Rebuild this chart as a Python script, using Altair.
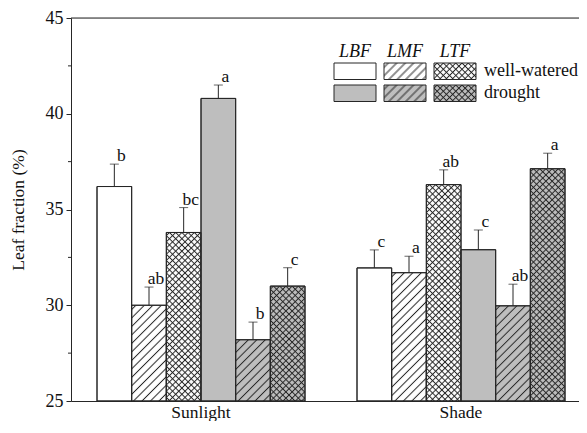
import altair as alt
import pandas as pd
from urllib.parse import quote

# ---------------- data ----------------
sites = ["Sunlight", "Shade"]
types = ["LBF", "LMF", "LTF"]
conds = ["well-watered", "drought"]

# order within a site: LBF, LMF, LTF (well-watered) then LBF, LMF, LTF (drought)
values_sunlight = [36.2, 30.0, 33.8, 40.8, 28.2, 31.0]
errors_sunlight = [1.17, 0.95, 1.3, 0.7, 0.92, 0.96]
letters_sunlight = ["b", "ab", "bc", "a", "b", "c"]

values_shade = [31.95, 31.7, 36.3, 32.9, 29.97, 37.13]
errors_shade = [0.94, 0.86, 0.77, 1.03, 1.13, 0.81]
letters_shade = ["c", "a", "ab", "c", "ab", "a"]

y_major = [25, 30, 35, 40, 45]
y_minor = [27.5, 32.5, 37.5, 42.5]
y_top = [45]

rows = []
for site, vals, errs, lets in [
    ("Sunlight", values_sunlight, errors_sunlight, letters_sunlight),
    ("Shade", values_shade, errors_shade, letters_shade),
]:
    i = 0
    for c in conds:
        for t in types:
            rows.append(dict(site=site, type=t, cond=c, key=t + "|" + c,
                             value=vals[i], err=errs[i], top=vals[i] + errs[i],
                             letter=lets[i]))
            i += 1
df = pd.DataFrame(rows)
keys = [t + "|" + c for c in conds for t in types]

legend_df = pd.DataFrame([dict(type=t, cond=c, col=j, row=r)
                          for r, c in enumerate(conds) for j, t in enumerate(types)])
header_df = pd.DataFrame(dict(type=types, col=[0, 1, 2]))
cond_df = pd.DataFrame(dict(cond=conds, row=[0, 1]))

# ---------------- hatch patterns (SVG images, unscaled) ----------------
def svg_pattern(inner, size):
    svg = ("<svg xmlns='http://www.w3.org/2000/svg' width='100%' height='100%'>"
           "<defs><pattern id='p' width='{s}' height='{s}' patternUnits='userSpaceOnUse' "
           "patternTransform='rotate(45)'>{inner}</pattern></defs>"
           "<rect width='100%' height='100%' fill='url(#p)'/></svg>").format(s=size, inner=inner)
    return "data:image/svg+xml;charset=utf-8," + quote(svg)

DIAG = svg_pattern("<line x1='3' y1='0' x2='3' y2='6' stroke='#262626' stroke-width='1'/>", 6)
CROSS = svg_pattern("<line x1='2.2' y1='0' x2='2.2' y2='4.4' stroke='#262626' stroke-width='1'/>"
                    "<line x1='0' y1='2.2' x2='4.4' y2='2.2' stroke='#262626' stroke-width='1'/>", 4.4)

FONT = "Liberation Serif"
INK = "#262626"
GRAY = "#bebebe"

x_axis = alt.Axis(title=None, ticks=False, labelAngle=0, labelFontSize=17.5, labelPadding=2,
                  domainColor=INK, labelColor="#111", labelFont=FONT)
y_axis = alt.Axis(title="Leaf fraction (%)", values=y_major, tickSize=5, tickColor=INK,
                  domainColor=INK, labelFontSize=18, labelColor="#111", labelFont=FONT,
                  labelPadding=3, titleFontSize=17.5, titleFontWeight="normal", titleColor="#111",
                  titleFont=FONT, titlePadding=18, grid=False)
y_scale = alt.Scale(domain=[25, 45], nice=False, zero=False)
# band range runs a little past the right edge of the view, as in the cropped original
x_scale = alt.Scale(paddingInner=0.2, paddingOuter=0.1, range=[0, 520])

X = alt.X("site:N", sort=sites, scale=x_scale, axis=x_axis)
XO = alt.XOffset("key:N", sort=keys, scale=alt.Scale(domain=keys))
fill_scale = alt.Scale(domain=conds, range=["white", GRAY])

def Y(field):
    return alt.Y(field, scale=y_scale, axis=y_axis)

base = alt.Chart(df)

bars = base.mark_bar(stroke=INK, strokeWidth=1).encode(
    x=X, xOffset=XO, y=Y("value:Q"), y2=alt.datum(25),
    fill=alt.Fill("cond:N", scale=fill_scale, legend=None))

diag = base.transform_filter("datum.type == 'LMF'").mark_image(aspect=False).encode(
    x=X, xOffset=XO, y=Y("value:Q"), y2=alt.datum(25), url=alt.value(DIAG))
cross = base.transform_filter("datum.type == 'LTF'").mark_image(aspect=False).encode(
    x=X, xOffset=XO, y=Y("value:Q"), y2=alt.datum(25), url=alt.value(CROSS))

outline = base.mark_bar(fillOpacity=0, stroke=INK, strokeWidth=1).encode(
    x=X, xOffset=XO, y=Y("value:Q"), y2=alt.datum(25))

err = base.mark_rule(color=INK, strokeWidth=1).encode(
    x=X, xOffset=XO, y=Y("value:Q"), y2="top:Q")
caps = base.mark_tick(color=INK, thickness=1, size=9).encode(
    x=X, xOffset=XO, y=Y("top:Q"))
letters = base.mark_text(fontSize=17.5, font=FONT, color="#111", dx=7, dy=-3,
                         baseline="alphabetic").encode(
    x=X, xOffset=XO, y=Y("top:Q"), text="letter:N")

minor = alt.Chart(pd.DataFrame(dict(m=y_minor))).mark_rule(color=INK).encode(
    y=Y("m:Q"), x=alt.value(-3), x2=alt.value(0))
topline = alt.Chart(pd.DataFrame(dict(t=y_top))).mark_rule(color=INK).encode(y=Y("t:Q"))

# ---------------- legend (pixel layout) ----------------
leg = alt.Chart(legend_df).transform_calculate(
    lx="263 + datum.col * 50", lx2="305 + datum.col * 50",
    ly="45 + datum.row * 22", ly2="61.5 + datum.row * 22")
LX = alt.X("lx:Q", scale=None)
LY = alt.Y("ly:Q", scale=None)
leg_fill = leg.mark_rect(strokeWidth=0).encode(
    x=LX, x2="lx2:Q", y=LY, y2="ly2:Q",
    fill=alt.Fill("cond:N", scale=fill_scale, legend=None))
leg_diag = leg.transform_filter("datum.type == 'LMF'").mark_image(aspect=False).encode(
    x=LX, x2="lx2:Q", y=LY, y2="ly2:Q", url=alt.value(DIAG))
leg_cross = leg.transform_filter("datum.type == 'LTF'").mark_image(aspect=False).encode(
    x=LX, x2="lx2:Q", y=LY, y2="ly2:Q", url=alt.value(CROSS))
leg_out = leg.mark_rect(fillOpacity=0, stroke=INK, strokeWidth=1).encode(
    x=LX, x2="lx2:Q", y=LY, y2="ly2:Q")
leg_head = alt.Chart(header_df).transform_calculate(hx="284 + datum.col * 50").mark_text(
    fontSize=18, font=FONT, fontStyle="italic", color="#111", baseline="middle").encode(
    x=alt.X("hx:Q", scale=None), y=alt.value(34), text="type:N")
leg_cond = alt.Chart(cond_df).transform_calculate(cy="53 + datum.row * 22").mark_text(
    fontSize=18, font=FONT, color="#111", align="left", baseline="middle").encode(
    x=alt.value(413), y=alt.Y("cy:Q", scale=None), text="cond:N")

chart = alt.layer(
    bars, diag, cross, outline, err, caps, letters, minor, topline,
    leg_fill, leg_diag, leg_cross, leg_out, leg_head, leg_cond
).properties(
    width=508, height=383,
    autosize=alt.AutoSizeParams(type="none"),
    padding={"left": 63, "top": 10, "right": 0, "bottom": 20},
).configure_view(strokeWidth=0).configure(font=FONT)

chart.save("out.html", embed_options={"renderer": "svg", "actions": False})
